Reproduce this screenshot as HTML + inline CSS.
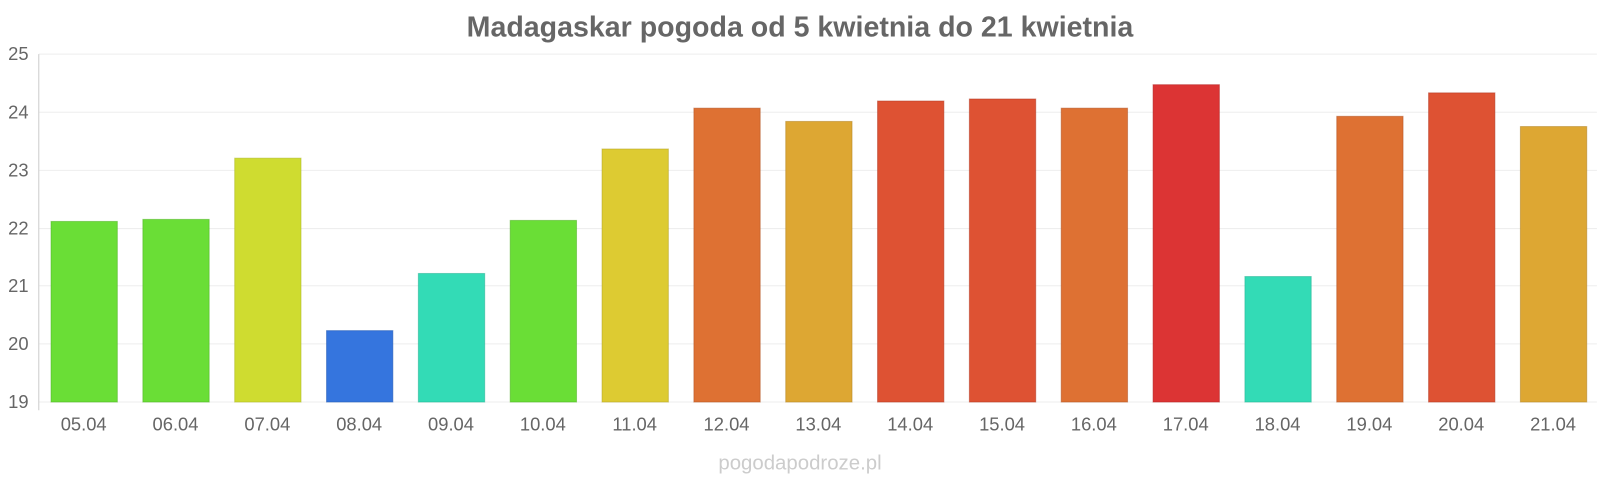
<!DOCTYPE html>
<html><head><meta charset="utf-8"><style>
body{margin:0;background:#fff;width:1600px;height:480px;overflow:hidden;font-family:"Liberation Sans",sans-serif}
svg{display:block}
</style></head><body>
<svg width="1600" height="480" viewBox="0 0 1568 470.4" preserveAspectRatio="none" xmlns="http://www.w3.org/2000/svg" font-family="Liberation Sans, sans-serif">
<text x="784" y="36" text-anchor="middle" font-size="28" font-weight="bold" fill="#666">Madagaskar pogoda od 5 kwietnia do 21 kwietnia</text>
<g stroke="#eee" stroke-width="1">
<line x1="38" x2="1565" y1="53" y2="53"/><line x1="38" x2="1565" y1="110" y2="110"/><line x1="38" x2="1565" y1="167" y2="167"/><line x1="38" x2="1565" y1="224" y2="224"/><line x1="38" x2="1565" y1="280" y2="280"/><line x1="38" x2="1565" y1="337" y2="337"/><line x1="38" x2="1565" y1="394" y2="394"/>
</g>
<line x1="38" x2="38" y1="53" y2="402" stroke="#ccc"/>
<g font-size="18" fill="#666" text-anchor="end">
<text x="28" y="59">25</text><text x="28" y="116">24</text><text x="28" y="173">23</text><text x="28" y="230">22</text><text x="28" y="286">21</text><text x="28" y="343">20</text><text x="28" y="400">19</text>
</g>
<g stroke-opacity="0.5">
<rect x="50" y="217" width="65" height="177" fill="#6ade36" stroke="#4cb020"/>
<rect x="140" y="215" width="65" height="179" fill="#6ade36" stroke="#4cb020"/>
<rect x="230" y="155" width="65" height="239" fill="#cfdc30" stroke="#a8b420"/>
<rect x="320" y="324" width="65" height="70" fill="#3575de" stroke="#1f55b0"/>
<rect x="410" y="268" width="65" height="126" fill="#33dbb6" stroke="#20b090"/>
<rect x="500" y="216" width="65" height="178" fill="#6ade36" stroke="#4cb020"/>
<rect x="590" y="146" width="65" height="248" fill="#ddcb32" stroke="#b0a020"/>
<rect x="680" y="106" width="65" height="288" fill="#de7133" stroke="#b05020"/>
<rect x="770" y="119" width="65" height="275" fill="#dda733" stroke="#b08020"/>
<rect x="860" y="99" width="65" height="295" fill="#de5233" stroke="#b03520"/>
<rect x="950" y="97" width="65" height="297" fill="#de5233" stroke="#b03520"/>
<rect x="1040" y="106" width="65" height="288" fill="#de7133" stroke="#b05020"/>
<rect x="1130" y="83" width="65" height="311" fill="#dc3434" stroke="#b02020"/>
<rect x="1220" y="271" width="65" height="123" fill="#33dbb6" stroke="#20b090"/>
<rect x="1310" y="114" width="65" height="280" fill="#de7133" stroke="#b05020"/>
<rect x="1400" y="91" width="65" height="303" fill="#de5233" stroke="#b03520"/>
<rect x="1490" y="124" width="65" height="270" fill="#dda733" stroke="#b08020"/>
</g>
<g font-size="18" fill="#666" text-anchor="middle">
<text x="82" y="422">05.04</text><text x="172" y="422">06.04</text><text x="262" y="422">07.04</text><text x="352" y="422">08.04</text><text x="442" y="422">09.04</text><text x="532" y="422">10.04</text><text x="622" y="422">11.04</text><text x="712" y="422">12.04</text><text x="802" y="422">13.04</text><text x="892" y="422">14.04</text><text x="982" y="422">15.04</text><text x="1072" y="422">16.04</text><text x="1162" y="422">17.04</text><text x="1252" y="422">18.04</text><text x="1342" y="422">19.04</text><text x="1432" y="422">20.04</text><text x="1522" y="422">21.04</text>
</g>
<text x="784" y="460" text-anchor="middle" font-size="20" fill="#ccc">pogodapodroze.pl</text>
</svg>
</body></html>
